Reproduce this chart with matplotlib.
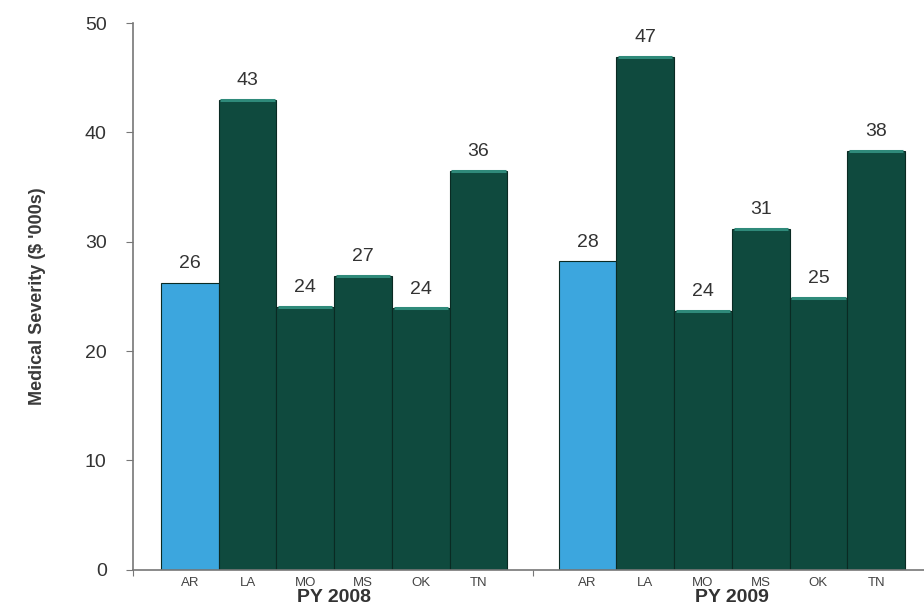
import numpy as np
import matplotlib.pyplot as plt

plt.rcParams.update({
    "font.family": ["Liberation Sans", "DejaVu Sans"],
    "text.color": "#333333",
})

states = ["AR", "LA", "MO", "MS", "OK", "TN"]
years = ["PY 2008", "PY 2009"]
sev_2008 = [26.2, 43.0, 24.0, 26.9, 23.9, 36.5]
sev_2009 = [28.2, 46.9, 23.7, 31.2, 24.9, 38.3]
labels_2008 = ["26", "43", "24", "27", "24", "36"]
labels_2009 = ["28", "47", "24", "31", "25", "38"]

blue = "#3ca6de"
teal = "#0f4a3e"
teal_top = "#2f8a7a"
edge = "#0a2a23"

fig = plt.figure(figsize=(9.24, 6.1), dpi=100)
ax = fig.add_axes([0.144, 0.066, 0.856, 0.896])

group_gap = 0.886
n = len(states)
for g, (vals, labs) in enumerate([(sev_2008, labels_2008), (sev_2009, labels_2009)]):
    x = np.arange(n) + g * (n + group_gap)
    colors = [blue] + [teal] * (n - 1)
    ax.bar(x, vals, width=1.0, color=colors, edgecolor=edge, linewidth=0.8)
    ax.hlines(vals[1:], x[1:] - 0.47, x[1:] + 0.47, color=teal_top, linewidth=2.2)
    for xi, v, lab in zip(x, vals, labs):
        ax.text(xi, v + 1.0, lab, ha="center", va="bottom", fontsize=14)
    for xi, s in zip(x, states):
        ax.text(xi, -0.7, s, ha="center", va="top", fontsize=9.5, color="#444444")
    ax.text(x[2] + 0.5, -1.8, years[g], ha="center", va="top", fontsize=14,
            fontweight="bold")

ax.set_xlim(-0.984, 12.715)
ax.set_ylim(0, 50)
ax.set_yticks([0, 10, 20, 30, 40, 50])
ax.set_xticks([-0.984, n - 0.5 + group_gap / 2])
ax.set_xticklabels([])
ax.tick_params(axis="y", labelsize=14, length=5, color="#777777", pad=14,
               labelcolor="#333333")
ax.tick_params(axis="x", length=4, color="#777777")

for side in ["top", "right"]:
    ax.spines[side].set_visible(False)
for side in ["left", "bottom"]:
    ax.spines[side].set_color("#777777")
    ax.spines[side].set_linewidth(1.2)

ax.set_ylabel("Medical Severity ($ '000s)", fontsize=13, fontweight="bold",
              labelpad=28, color="#3a3a3a")

fig.savefig("out.png", dpi=100)
